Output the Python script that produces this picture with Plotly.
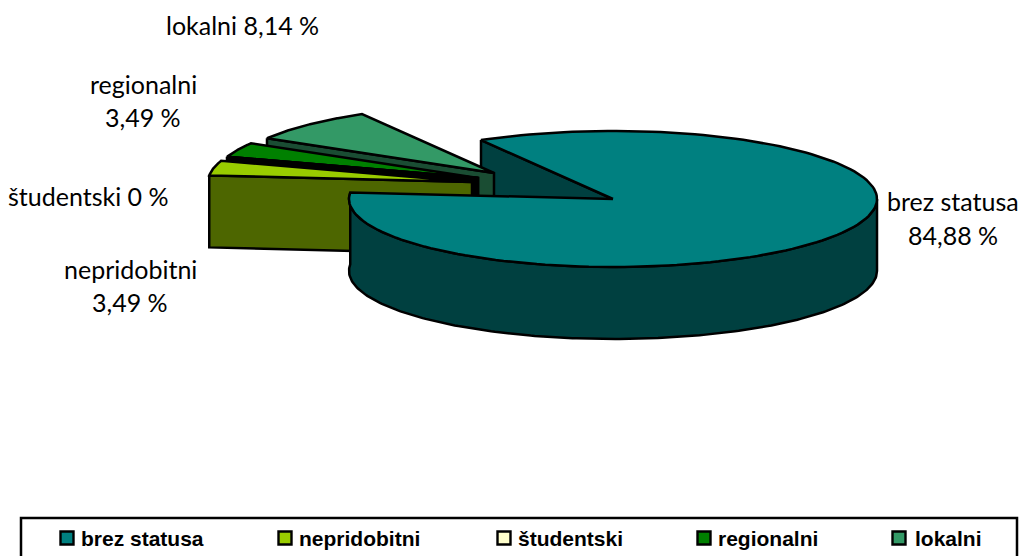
import numpy as np
import plotly.graph_objects as go

categories = ["brez statusa", "nepridobitni", "študentski", "regionalni", "lokalni"]
values = [84.88, 3.49, 0.0, 3.49, 8.14]
value_labels = ["84,88 %", "3,49 %", "0 %", "3,49 %", "8,14 %"]

top_colors = ["#008080", "#99CC00", "#FFFFCC", "#008000", "#339966"]
side_colors = ["#004040", "#4D6600", "#000000", "#000000", "#1A4D33"]
apex = [(613, 199), (472, 182), (478, 178), (478, 178), (494, 173)]
RX, RY, DEPTH = 264, 68, 72
START = 120.0


def rim(angles, c, dy=0):
    a = np.radians(angles)
    return c[0] + RX * np.cos(a), c[1] - RY * np.sin(a) + dy


def poly(fig, xs, ys, fill, name):
    fig.add_trace(go.Scatter(x=list(xs), y=list(ys), mode="lines", fill="toself", fillcolor=fill,
                             line=dict(color="black", width=2.5), name=name, hoverinfo="name",
                             showlegend=False))


def cut_face(fig, i, angle):
    c = apex[i]
    ex, ey = rim(np.array([angle]), c)
    poly(fig, [ex[0], c[0], c[0], ex[0], ex[0]],
         [ey[0], c[1], c[1] + DEPTH, ey[0] + DEPTH, ey[0]], side_colors[i], categories[i])


# slice angles, clockwise from START
bounds = START - np.cumsum([0] + values) * 3.6
fig = go.Figure()

# the back cut face of the main slice lies behind the exploded slices
cut_face(fig, 0, bounds[0])

for i in [4, 3, 2, 1, 0]:
    a0, a1 = bounds[i], bounds[i + 1]
    c = apex[i]
    name = categories[i]
    if i == 0:
        wall = np.linspace(a1 + 360, 360, 200)
        wx, wy = rim(wall, c)
        poly(fig, np.r_[wx, wx[::-1], wx[0]], np.r_[wy, wy[::-1] + DEPTH, wy[0]], side_colors[i], name)
    else:
        cut_face(fig, i, a0)
    rx, ry = rim(np.linspace(a0, a1, 160), c)
    poly(fig, np.r_[c[0], rx, c[0]], np.r_[c[1], ry, c[1]], top_colors[i], name)

# Legend row
legend_marker_x = [67, 285, 504, 704, 899]
legend_text_x = [79, 297, 516, 716, 913]
legend_y = 538
fig.add_trace(go.Scatter(x=legend_marker_x, y=[legend_y] * 5, mode="markers", showlegend=False,
                         text=categories, hoverinfo="text",
                         marker=dict(symbol="square", size=13, color=top_colors,
                                     line=dict(color="black", width=2.4))))

ann = []
for tx, name in zip(legend_text_x, categories):
    ann.append(dict(x=tx, y=legend_y, text=f"<b>{name}</b>", xanchor="left", yanchor="middle",
                    showarrow=False, font=dict(family="Liberation Sans", size=21, color="black")))

label_font = dict(family="Lato", size=25, color="black")
label_lines = [
    (242, 25, f"{categories[4]} {value_labels[4]}"),
    (143, 84, categories[3]),
    (143, 117, value_labels[3]),
    (88, 196, f"{categories[2]} {value_labels[2]}"),
    (130, 269, categories[1]),
    (130, 302, value_labels[1]),
    (953, 201, categories[0]),
    (953, 235, value_labels[0]),
]
for x, y, t in label_lines:
    ann.append(dict(x=x, y=y, text=t, xanchor="center", yanchor="middle", showarrow=False, font=label_font))

fig.update_layout(
    width=1021, height=556, margin=dict(l=0, r=0, t=0, b=0),
    paper_bgcolor="white", plot_bgcolor="white", showlegend=False,
    xaxis=dict(range=[0, 1021], visible=False, fixedrange=True),
    yaxis=dict(range=[556, 0], visible=False, fixedrange=True),
    annotations=ann,
    shapes=[dict(type="rect", x0=21, x1=1017, y0=518, y1=570, line=dict(color="black", width=2.5),
                 fillcolor="rgba(0,0,0,0)", layer="below")],
)
fig.write_html("out.html", config=dict(displayModeBar=False),
               post_script="document.body.style.margin='0';")
